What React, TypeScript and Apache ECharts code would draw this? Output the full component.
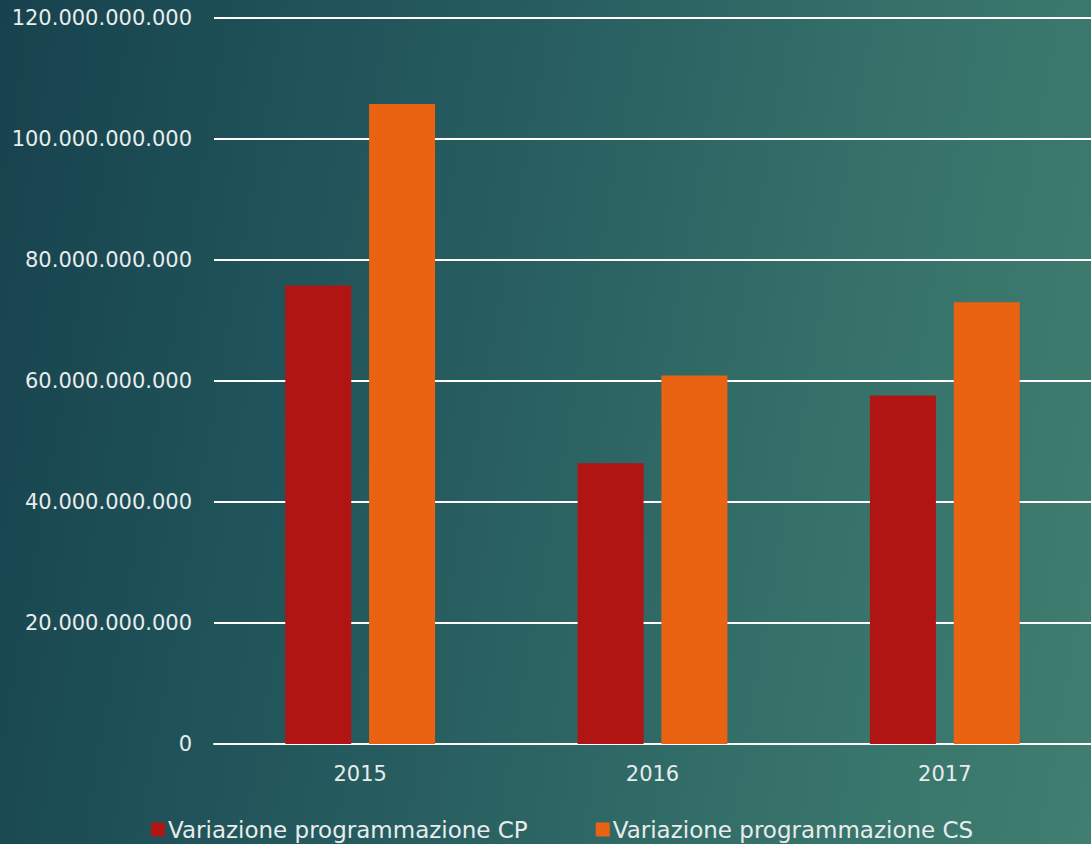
import React, { useEffect, useRef } from "react";
import * as echarts from "echarts";

const categories = ["2015", "2016", "2017"];
const seriesCP = [75.8e9, 46.4e9, 57.6e9];
const seriesCS = [105.8e9, 60.9e9, 73.0e9];
const seriesNames = ["Variazione programmazione CP", "Variazione programmazione CS"];
const yTicks = { min: 0, max: 120e9, interval: 20e9 };

function fmt(v: number): string {
  const s = Math.round(v).toString();
  return s.replace(/\B(?=(\d{3})+(?!\d))/g, ".");
}

export default function App() {
  const ref = useRef<HTMLDivElement>(null);
  useEffect(() => {
    if (!ref.current) return;
    const chart = echarts.init(ref.current, undefined, { renderer: "svg" });
    const textColor = "#e8ecec";
    const font = "DejaVu Sans";
    chart.setOption({
      animation: false,
      backgroundColor: "transparent",
      textStyle: { fontFamily: font },
      grid: { left: 214, width: 882, top: 18, bottom: 100, containLabel: false },
      legend: {
        data: seriesNames,
        left: 146,
        top: 813,
        itemWidth: 14,
        itemHeight: 14,
        itemGap: 68,
        icon: "rect",
        textStyle: { color: textColor, fontSize: 23, fontFamily: font, padding: [0, 0, 0, -2] },
      },
      xAxis: {
        type: "category",
        data: categories,
        axisLine: { show: true, lineStyle: { color: "#ffffff", width: 2 } },
        axisTick: { show: false },
        axisLabel: { color: textColor, fontSize: 21, margin: 19, fontFamily: font },
      },
      yAxis: {
        type: "value",
        min: yTicks.min,
        max: yTicks.max,
        interval: yTicks.interval,
        axisLine: { show: false },
        axisTick: { show: false },
        splitLine: { lineStyle: { color: "#ffffff", width: 2 } },
        axisLabel: {
          color: textColor,
          fontSize: 21,
          margin: 22,
          fontFamily: font,
          formatter: (v: number) => fmt(v),
        },
      },
      series: [
        {
          name: seriesNames[0],
          type: "bar",
          data: seriesCP,
          barWidth: 66,
          barGap: "27%",
          itemStyle: { color: "#B01513" },
        },
        {
          name: seriesNames[1],
          type: "bar",
          data: seriesCS,
          barWidth: 66,
          barGap: "27%",
          itemStyle: { color: "#EA6312" },
        },
      ],
    });
    return () => chart.dispose();
  }, []);
  return (
    <div
      style={{
        position: "fixed",
        left: 0,
        top: 0,
        width: 1091,
        height: 844,
        background:
          "linear-gradient(100deg, #17424d 0%, #1f5259 25%, #2a6162 50%, #36726a 75%, #3f7e70 100%)",
      }}
    >
      <div ref={ref} style={{ width: 1091, height: 844 }} />
    </div>
  );
}
